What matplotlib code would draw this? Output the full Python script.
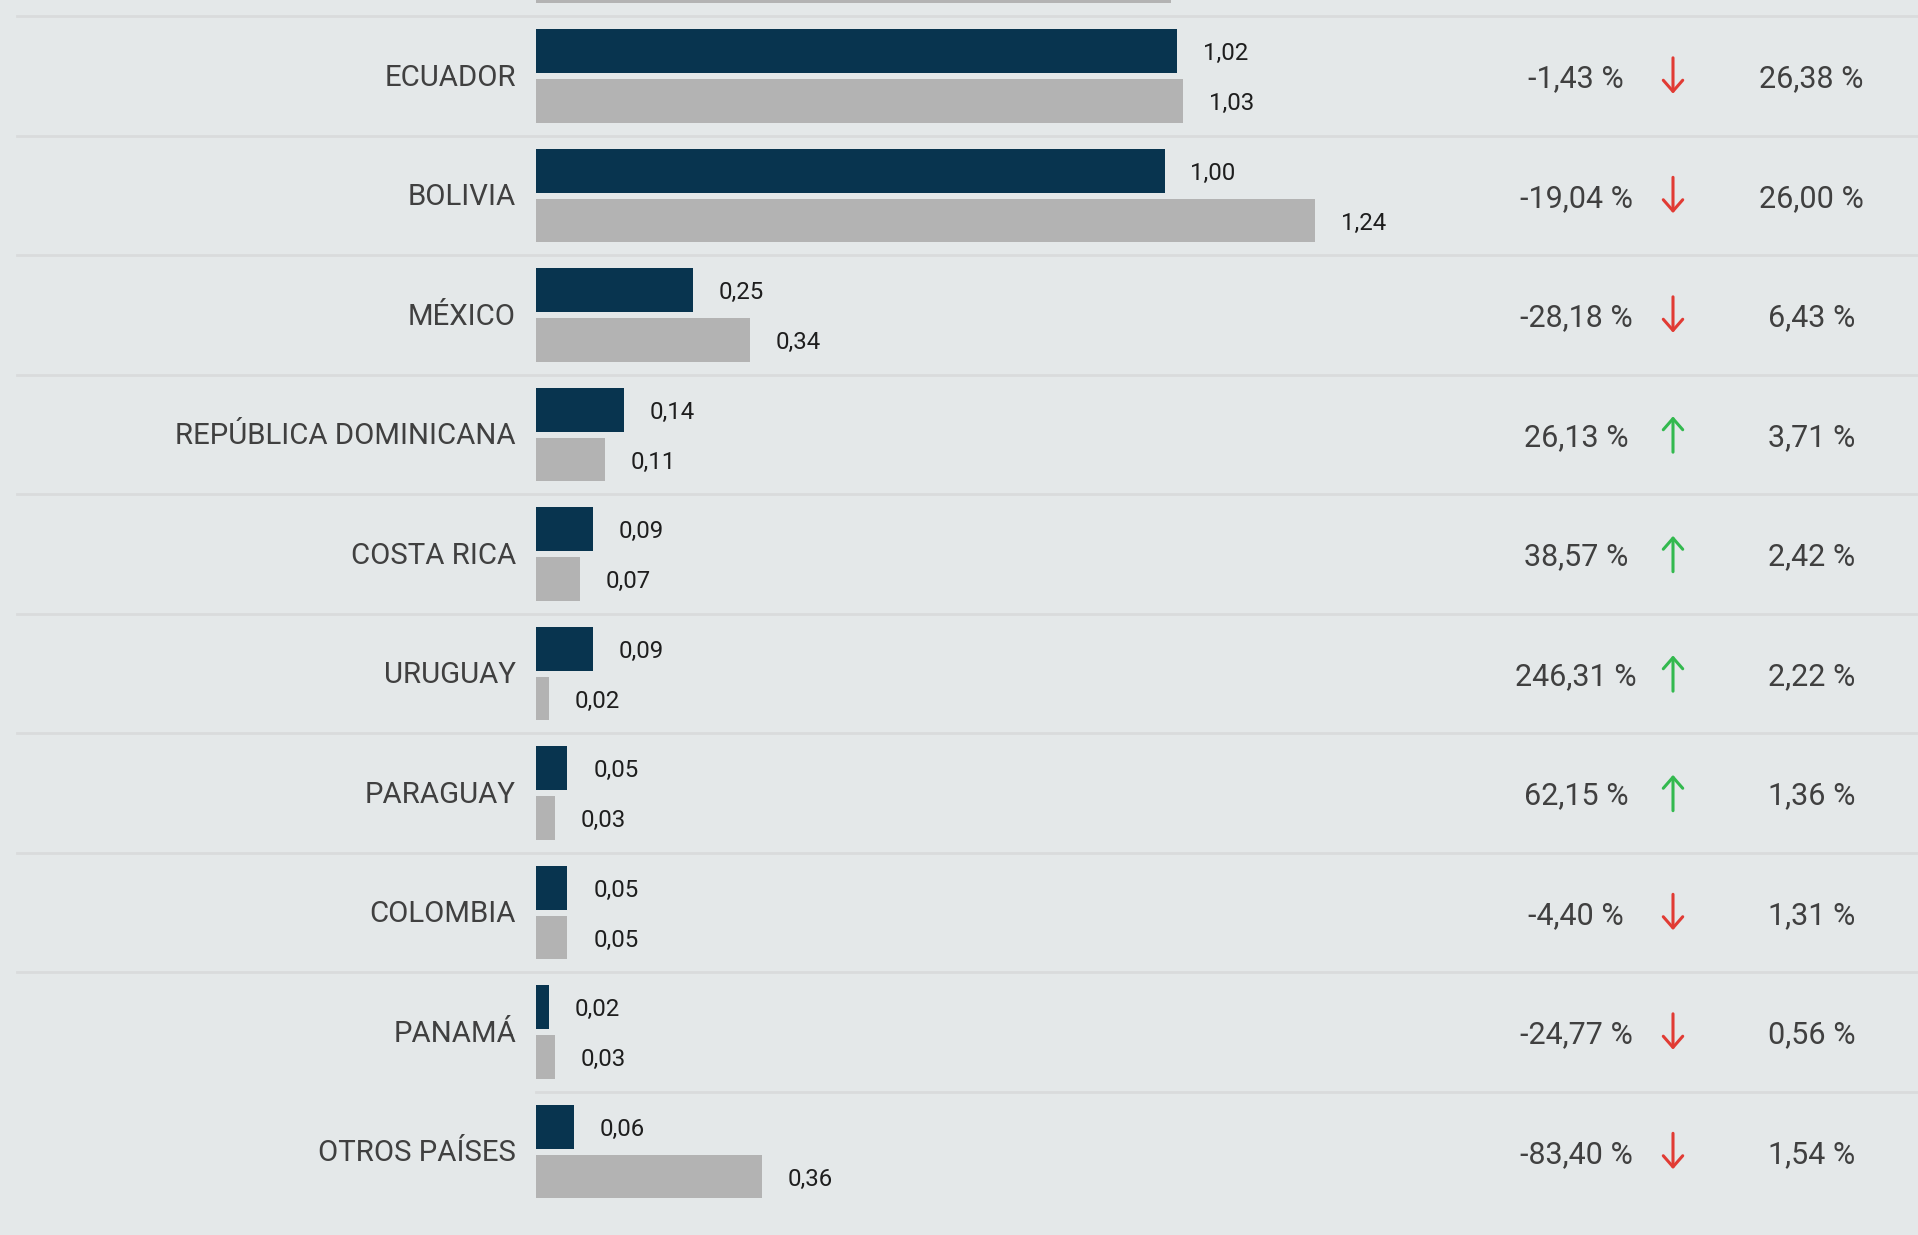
import numpy as np
import matplotlib.pyplot as plt
import matplotlib.transforms as mtransforms

# Values per country: current period (dark) vs previous period (gray)
countries = ['ECUADOR', 'BOLIVIA', 'MÉXICO', 'REPÚBLICA DOMINICANA', 'COSTA RICA',
             'URUGUAY', 'PARAGUAY', 'COLOMBIA', 'PANAMÁ', 'OTROS PAÍSES']
current = [1.02, 1.00, 0.25, 0.14, 0.09, 0.09, 0.05, 0.05, 0.02, 0.06]
previous = [1.03, 1.24, 0.34, 0.11, 0.07, 0.02, 0.03, 0.05, 0.03, 0.36]
change_pct = [-1.43, -19.04, -28.18, 26.13, 38.57, 246.31, 62.15, -4.40, -24.77, -83.40]
share_pct = [26.38, 26.00, 6.43, 3.71, 2.42, 2.22, 1.36, 1.31, 0.56, 1.54]
# tail of the row above, only its gray bar shows at the top edge
prev_row_gray = 1.01

BG = '#e4e8e9'
DARK = '#08344f'
GRAY = '#b3b3b3'
TEXT = '#404040'
SEP = '#d9dbdc'
RED = '#e13b34'
GREEN = '#33b94f'

W, H, DPI = 1918, 1235, 100
fig = plt.figure(figsize=(W / DPI, H / DPI), dpi=DPI, facecolor=BG)
ax = fig.add_axes([0, 0, 1, 1])
ax.set_facecolor(BG)
ax.axis('off')

# 628.5 px per unit, bars start at x=536 px; rows are 119.5 px tall starting at y=16 px
px_per_unit = 628.5
x0 = 536
row_h = 119.5
y0 = 16
ax.set_xlim(-x0 / px_per_unit, (W - x0) / px_per_unit)
ax.set_ylim((H - y0) / row_h, -y0 / row_h)

plt.rcParams['font.family'] = ['Roboto', 'DejaVu Sans']

n = len(countries)
rows = np.arange(n)
bar_h = 0.366
dark_c = rows + 0.294
gray_c = rows + 0.712

ax.barh(dark_c, current, height=bar_h, color=DARK, left=0)
ax.barh(gray_c, previous, height=bar_h, color=GRAY, left=0)
ax.barh([-1 + 0.712], [prev_row_gray], height=bar_h, color=GRAY, left=0)

# row separators
for i in range(n):
    xmin = 17 / W if i < n - 1 else x0 / W
    ax.axhline(i, xmin=xmin, xmax=1, color=SEP, lw=2, zorder=0)

def fmt(v, nd=2):
    return f'{v:.{nd}f}'.replace('.', ',')

off = 25.7 * 72 / DPI
for i in range(n):
    ax.annotate(fmt(current[i]), (current[i], dark_c[i]), xytext=(off, 0),
                textcoords='offset points', va='center_baseline', ha='left',
                fontsize=17.3, color='#1e1e1e')
    ax.annotate(fmt(previous[i]), (previous[i], gray_c[i]), xytext=(off, 0),
                textcoords='offset points', va='center_baseline', ha='left',
                fontsize=17.3, color='#1e1e1e')
    ax.annotate(countries[i], (0, i + 0.5), xytext=(-20 * 72 / DPI, 0.8),
                textcoords='offset points', va='center_baseline', ha='right',
                fontsize=21.2, color=TEXT)

trans = mtransforms.blended_transform_factory(ax.transAxes, ax.transData)
for i in range(n):
    yc = i + 0.5
    ax.text(1576 / W, yc, fmt(change_pct[i]) + ' %', transform=trans,
            ha='center', va='center_baseline', fontsize=22, color=TEXT)
    ax.text(1811.5 / W, yc, fmt(share_pct[i]) + ' %', transform=trans,
            ha='center', va='center_baseline', fontsize=22, color=TEXT)
    up = change_pct[i] >= 0
    color = GREEN if up else RED
    tip = yc - 0.15 if up else yc + 0.15
    tail = yc + 0.15 if up else yc - 0.15
    ax.annotate('', xy=(1673 / W, tip), xytext=(1673 / W, tail),
                xycoords=trans, textcoords=trans,
                arrowprops=dict(arrowstyle='->,head_length=0.4,head_width=0.35',
                                mutation_scale=20, lw=2.2, color=color,
                                shrinkA=0, shrinkB=0))

fig.savefig('out.png', dpi=DPI, facecolor=BG)
